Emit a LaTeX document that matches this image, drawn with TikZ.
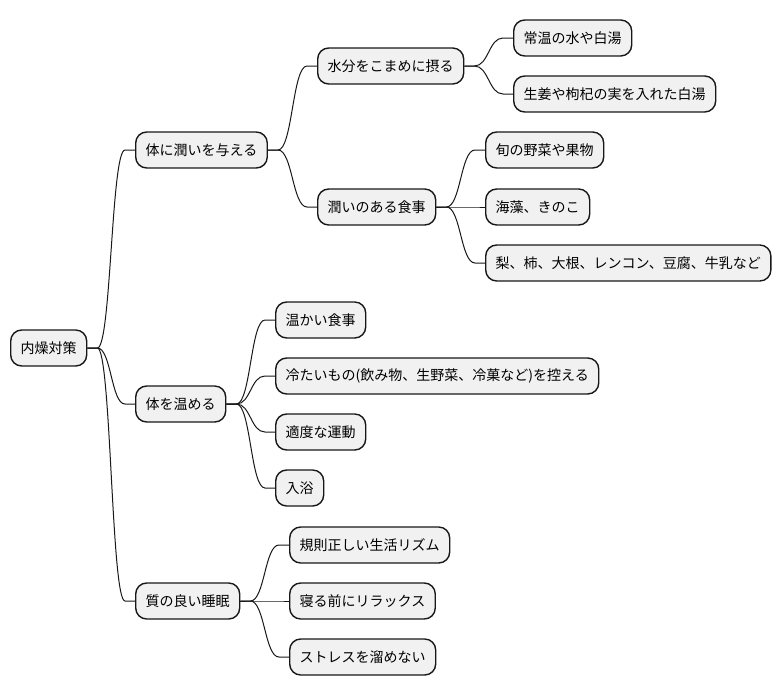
\documentclass[tikz,border=0pt]{standalone}
\usepackage{fontspec}
\setmainfont{Noto Sans CJK JP}
\usetikzlibrary{calc}
\definecolor{nodefill}{HTML}{F1F1F1}
\definecolor{nodeline}{HTML}{181818}
\tikzset{
  mmnode/.style={draw=nodeline, fill=nodefill, line width=1.4pt, rounded corners=11pt,
    minimum height=36pt, inner xsep=10pt, inner ysep=0pt, anchor=west,
    font=\fontsize{14pt}{16pt}\selectfont},
  mmlinkstyle/.style={draw=nodeline, line width=1pt}
}
\newcommand\mmlink[2]{%
  \path (#1.east) ++(10,0) coordinate (mmP1);
  \path (#2.west) ++(-10,0) coordinate (mmP2);
  \draw[mmlinkstyle] let \p1=(mmP1), \p2=(mmP2) in
    (#1.east) -- (mmP1) .. controls ({(\x1+\x2)/2},\y1) and ({(\x1+\x2)/2},\y2) .. (mmP2) -- (#2.west);
}
\begin{document}
\begin{tikzpicture}[x=1pt,y=-1pt]
\useasboundingbox (0,0) rectangle (782,696);
\node[mmnode] (root) at (10,348) {内燥対策};
\node[mmnode] (a) at (135,150) {体に潤いを与える};
\node[mmnode] (a1) at (317,66) {水分をこまめに摂る};
\node[mmnode] (a11) at (513,38) {常温の水や白湯};
\node[mmnode] (a12) at (513,94) {生姜や枸杞の実を入れた白湯};
\node[mmnode] (a2) at (317,207) {潤いのある食事};
\node[mmnode] (a21) at (485,150) {旬の野菜や果物};
\node[mmnode] (a22) at (485,207) {海藻、きのこ};
\node[mmnode] (a23) at (485,263) {梨、柿、大根、レンコン、豆腐、牛乳など};
\node[mmnode] (b) at (135,404) {体を温める};
\node[mmnode] (b1) at (275,320) {温かい食事};
\node[mmnode] (b2) at (275,376) {冷たいもの(飲み物、生野菜、冷菓など)を控える};
\node[mmnode] (b3) at (275,432) {適度な運動};
\node[mmnode] (b4) at (275,488) {入浴};
\node[mmnode] (c) at (135,601) {質の良い睡眠};
\node[mmnode] (c1) at (289,545) {規則正しい生活リズム};
\node[mmnode] (c2) at (289,601) {寝る前にリラックス};
\node[mmnode] (c3) at (289,657) {ストレスを溜めない};
\mmlink{root}{a}
\mmlink{root}{b}
\mmlink{root}{c}
\mmlink{a}{a1}
\mmlink{a}{a2}
\mmlink{a1}{a11}
\mmlink{a1}{a12}
\mmlink{a2}{a21}
\mmlink{a2}{a22}
\mmlink{a2}{a23}
\mmlink{b}{b1}
\mmlink{b}{b2}
\mmlink{b}{b3}
\mmlink{b}{b4}
\mmlink{c}{c1}
\mmlink{c}{c2}
\mmlink{c}{c3}
\end{tikzpicture}
\end{document}
